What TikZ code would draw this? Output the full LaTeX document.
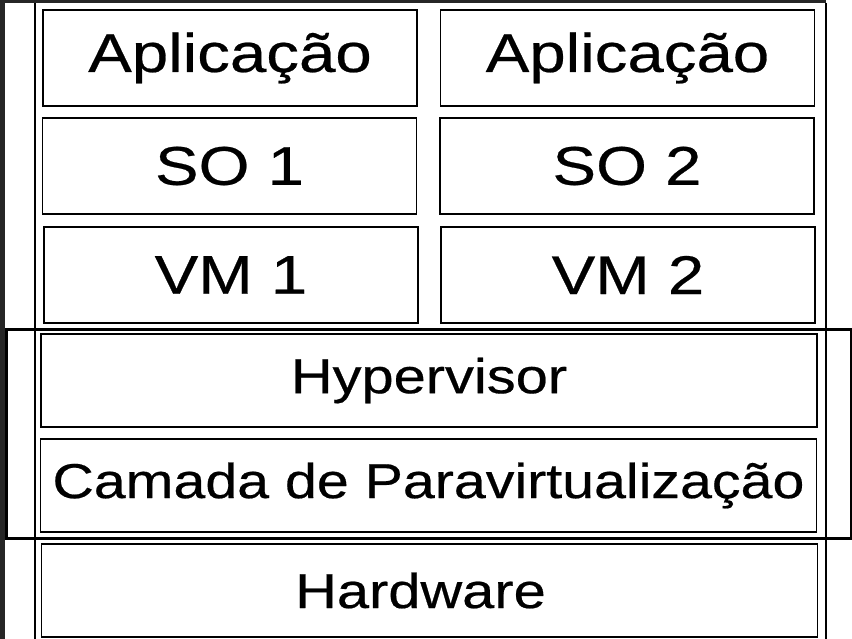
\documentclass[tikz,border=0pt]{standalone}
\usepackage{fontspec}
\newfontfamily\labelfont{Liberation Sans}[FakeBold=0.4]
\newcommand{\widetext}[2]{\scalebox{#1}[1]{#2}}
\begin{document}
\begin{tikzpicture}[x=1pt,y=-1pt,
  layerbox/.style={draw=black, line width=1.6pt, inner sep=0pt, outer sep=0pt, fill=white},
  guestbox/.style={layerbox, minimum width=374pt, minimum height=96pt,
    font=\labelfont\fontsize{54.5}{54.5}\selectfont},
  hostbox/.style={layerbox, minimum width=776pt, minimum height=93pt,
    font=\labelfont\fontsize{49}{49}\selectfont},
  frame/.style={draw=black, line width=3pt},
  rail/.style={draw=black, line width=1.3pt}]
  \useasboundingbox (0,0) rectangle (852,639);
  \fill[white] (0,0) rectangle (852,639);
  % window edges
  \fill[black!85] (0,0) rectangle (5,639);
  \fill[black!85] (0,0) rectangle (826,3);
  % column rails
  \coordinate (railLt) at (35,3);
  \coordinate (railLb) at (35,639);
  \coordinate (railRt) at (826,3);
  \coordinate (railRb) at (826,639);
  \draw[rail] (railLt) -- (railLb);
  \draw[rail] (railRt) -- (railRb);
  % guest stacks
  \node[guestbox] (app1) at (230,58)    {\widetext{1.2}{Aplicação}};
  \node[guestbox] (app2) at (627.5,58)  {\widetext{1.2}{Aplicação}};
  \node[guestbox] (so1)  at (229.5,166) {\widetext{1.2}{SO 1}};
  \node[guestbox] (so2)  at (627,166)   {\widetext{1.2}{SO 2}};
  \node[guestbox] (vm1)  at (231,275)   {\widetext{1.2}{VM 1}};
  \node[guestbox] (vm2)  at (628,275)   {\widetext{1.2}{VM 2}};
  % hypervisor frame
  \coordinate (frameNW) at (6.5,329.5);
  \coordinate (frameSE) at (851,538.5);
  \draw[frame] (frameNW) rectangle (frameSE);
  % host layers
  \node[hostbox] (hyp) at (429,380.5)   {\widetext{1.18}{Hypervisor}};
  \node[hostbox] (cam) at (428.5,485.5) {\widetext{1.17}{Camada de Paravirtualização}};
  \node[hostbox] (hw)  at (429.5,590.5) {\hspace*{-18pt}\widetext{1.18}{Hardware}};
\end{tikzpicture}
\end{document}
